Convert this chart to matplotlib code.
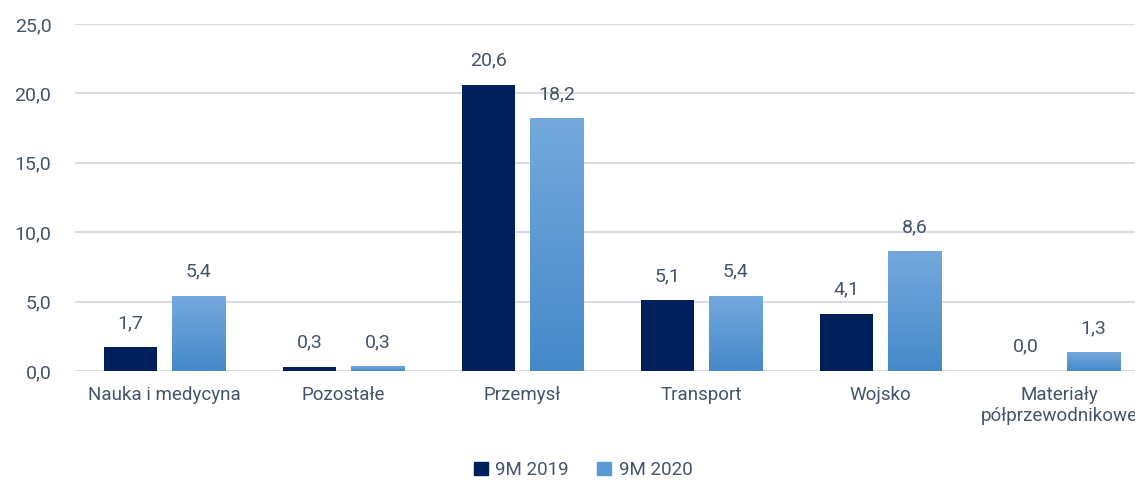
import matplotlib
matplotlib.use('Agg')
import matplotlib.pyplot as plt
import numpy as np
from matplotlib.colors import LinearSegmentedColormap
from matplotlib.patches import Patch

plt.rcParams['font.family'] = ['Roboto', 'DejaVu Sans']

categories = ['Nauka i medycyna', 'Pozostałe', 'Przemysł', 'Transport', 'Wojsko',
              'Materiały\npółprzewodnikowe']
values_2019 = [1.7, 0.3, 20.6, 5.1, 4.1, 0.0]
values_2020 = [5.4, 0.3, 18.2, 5.4, 8.6, 1.3]
series_names = ['9M 2019', '9M 2020']

dark = '#00205C'
light_top = '#75A9DD'
light_bottom = '#4589CA'
text_col = '#44546A'
grid_col = '#D9DDE3'

fig = plt.figure(figsize=(11.35, 4.82), dpi=100)
ax = fig.add_axes([75 / 1135, 111 / 482, 1074 / 1135, 347 / 482])

x = np.arange(len(categories))
w = 0.30
off = 0.19

bars1 = ax.bar(x - off, values_2019, w, color=dark, zorder=3)
bars2 = ax.bar(x + off, values_2020, w, color='none', zorder=3)

# gradient fill for the 2020 bars
cmap = LinearSegmentedColormap.from_list('g', [light_bottom, light_top])
grad = np.linspace(0, 1, 256).reshape(-1, 1)
for b in bars2:
    x0, y0 = b.get_x(), b.get_y()
    ax.imshow(grad, cmap=cmap, origin='lower', aspect='auto', zorder=3,
              extent=[x0, x0 + b.get_width(), y0, y0 + b.get_height()])

for bars, vals in [(bars1, values_2019), (bars2, values_2020)]:
    for b, v in zip(bars, vals):
        ax.annotate(f'{v:.1f}'.replace('.', ','),
                    (b.get_x() + b.get_width() / 2, b.get_height()),
                    xytext=(0, 11), textcoords='offset points',
                    ha='center', va='bottom', fontsize=14, color=text_col)

ax.set_xlim(-0.5, len(categories) - 0.5)
ax.set_ylim(0, 25)
ax.set_yticks(np.arange(0, 26, 5))
ax.set_yticklabels([f'{t:.1f}'.replace('.', ',') for t in np.arange(0, 26, 5)])
ax.set_xticks(x)
ax.set_xticklabels(categories, linespacing=1.2)

ax.grid(axis='y', color=grid_col, linewidth=1.5, zorder=0)
ax.set_axisbelow(True)
for s in ax.spines.values():
    s.set_visible(False)
ax.tick_params(axis='both', length=0, labelsize=13.5, labelcolor=text_col)
ax.tick_params(axis='y', labelsize=14, pad=17)
ax.tick_params(axis='x', pad=11)

handles = [Patch(color=dark), Patch(color='#5B9BD5')]
fig.legend(handles, series_names, loc='center', bbox_to_anchor=(583 / 1135, 1 - 470 / 482),
           ncol=2, frameon=False, fontsize=13.5, labelcolor=text_col,
           handlelength=0.75, handleheight=0.75, handletextpad=0.4, columnspacing=1.5)

fig.savefig('out.png', dpi=100)
